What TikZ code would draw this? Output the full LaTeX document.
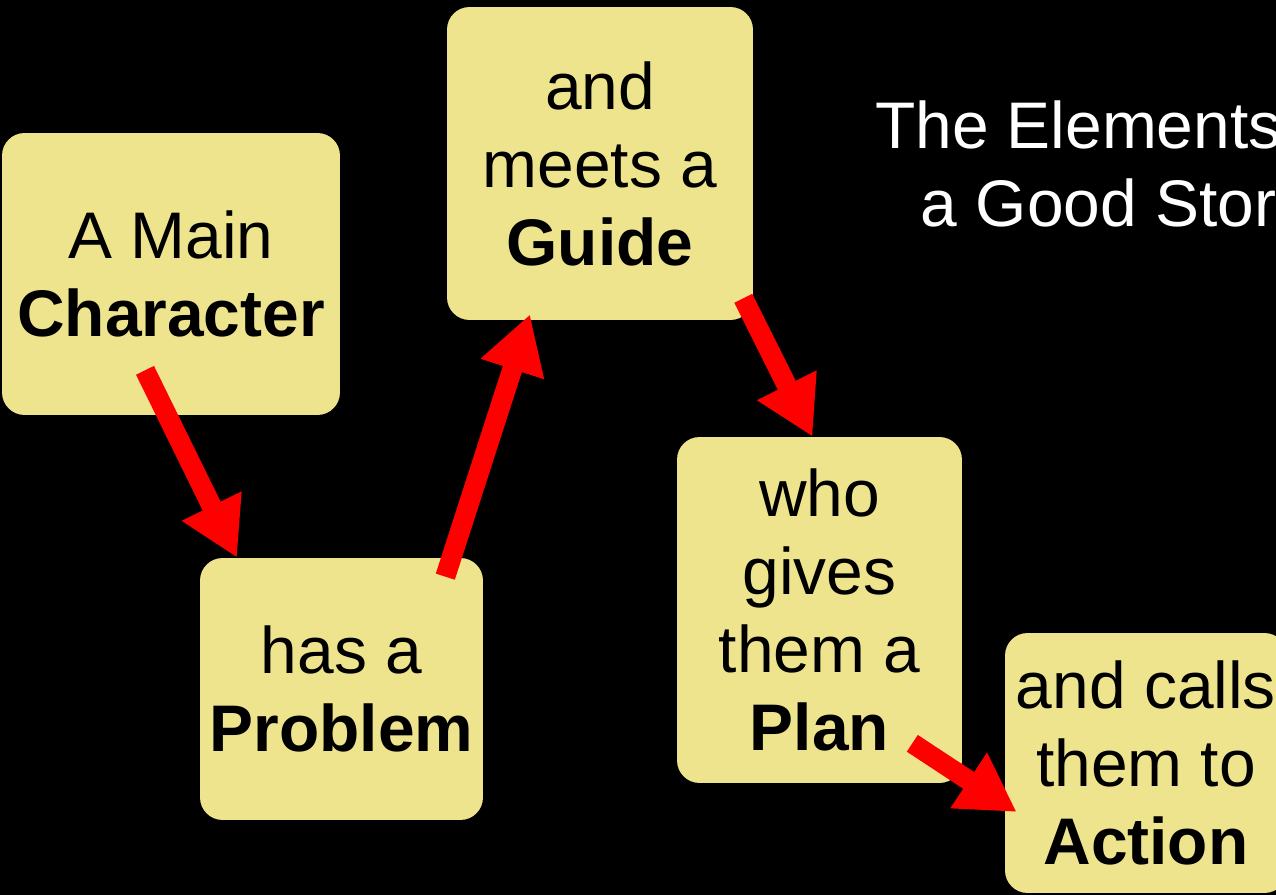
\documentclass[tikz,border=0pt]{standalone}
\usepackage{fontspec}
\setmainfont{Liberation Sans}
\usetikzlibrary{arrows.meta}
\definecolor{notepad}{RGB}{238,228,142}
\definecolor{arrowred}{RGB}{255,0,0}

\begin{document}
\begin{tikzpicture}[x=0.02cm,y=-0.02cm,
  every node/.style={font=\fontsize{37.5}{44.4}\selectfont},
  card/.style={shape=rectangle,rounded corners=0.45cm,fill=notepad,align=center,inner sep=0pt},
  bigarrow/.style={draw=arrowred,line width=0.4cm,-{Triangle[length=1.15cm,width=1.25cm]}}]
%[inner sep=1mm]
\useasboundingbox (0,0) rectangle (1276,895);
\fill [black] (0,0) rectangle (1276,895);
\clip (0,0) rectangle (1276,895);

\path (171,274) node (character) [card,minimum width=6.76cm,minimum height=5.64cm] {A Main\\\textbf{Character}};
\path (341.5,689) node (problem) [card,minimum width=5.66cm,minimum height=5.24cm] {has a\\\textbf{Problem}};
\path (600,163.5) node (guide) [card,minimum width=6.12cm,minimum height=6.26cm] {and\\meets a\\\textbf{Guide}};
\path (819.5,610) node (plan) [card,minimum width=5.70cm,minimum height=6.92cm] {who\\gives\\them a\\\textbf{Plan}};
\path (1146,763) node (action) [card,minimum width=5.64cm,minimum height=5.2cm] {and calls\\them to\\\textbf{Action}};
\path (1115,170) node (title) [align=center,text=white,inner sep=0pt] {The Elements of\\a Good Story};

\draw [bigarrow] ([shift={(-26,-45)}]character.south) to ([shift={(-104.5,0)}]problem.north);
\draw [bigarrow] ([shift={(-38,19)}]problem.north east) to ([shift={(-70,-6)}]guide.south);
\draw [bigarrow] ([shift={(-10,-22)}]guide.south east) to ([shift={(-7,0)}]plan.north);
\draw [bigarrow] ([shift={(-50,-40)}]plan.south east) to ([shift={(12,49)}]action.west);
\end{tikzpicture}
\end{document}
